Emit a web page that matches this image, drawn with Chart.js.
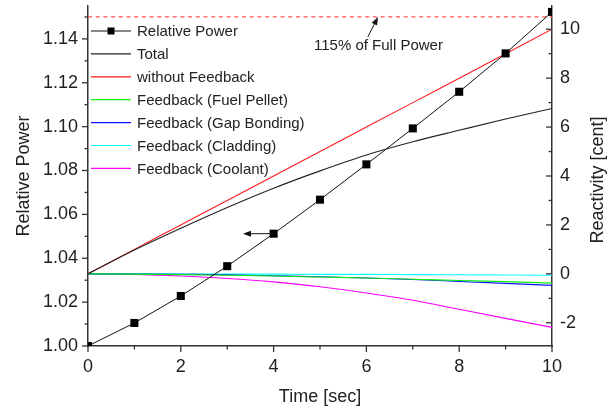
<!DOCTYPE html>
<html>
<head>
<meta charset="utf-8">
<title>Relative Power and Reactivity</title>
<script src="https://cdn.jsdelivr.net/npm/chart.js@4.4.1/dist/chart.umd.min.js"></script>
<style>
  html, body { margin: 0; padding: 0; background: #fff; }
  #wrap { width: 616px; height: 418px; }
</style>
</head>
<body>
<div id="wrap"><canvas id="chart" width="616" height="418"></canvas></div>
<script>
// time axis [sec]
const timeSec = [0, 1, 2, 3, 4, 5, 6, 7, 8, 9, 10];

// left axis: relative power
const relativePower = [1.000, 1.0105, 1.0228, 1.0364, 1.0512, 1.0667, 1.0828, 1.0992, 1.1159, 1.1334, 1.1523];
const fullPowerLimit = 1.15;

// right axis: reactivity [cent]
const reactTotal      = [0, 0.97, 1.86, 2.71, 3.50, 4.21, 4.86, 5.40, 5.87, 6.33, 6.76];
const reactNoFeedback = [0, 1, 2, 3, 4, 5, 6, 7, 8, 9, 10];
const reactFuel       = [0, -0.01, -0.03, -0.06, -0.09, -0.13, -0.17, -0.22, -0.27, -0.32, -0.38];
const reactGap        = [0, -0.005, -0.02, -0.04, -0.08, -0.12, -0.17, -0.23, -0.31, -0.39, -0.47];
const reactClad       = [0, 0, -0.005, -0.01, -0.01, -0.02, -0.02, -0.03, -0.04, -0.05, -0.06];
const reactCool       = [0, -0.02, -0.09, -0.19, -0.33, -0.53, -0.78, -1.08, -1.45, -1.82, -2.19];

const FONT = "'Liberation Sans', Arial, sans-serif";
const INK = '#222';
const AXIS = '#333';

function pts(ys) {
  return timeSec.map((t, i) => ({ x: t, y: ys[i] }));
}

function reactLine(label, ys, color) {
  return {
    label,
    data: pts(ys),
    yAxisID: 'yReact',
    borderColor: color,
    borderWidth: 1.1,
    pointRadius: 0,
    cubicInterpolationMode: 'monotone',
  };
}

// thin/thick tick marks, drawn by hand so minor ticks can be shorter
const tickMarks = {
  id: 'tickMarks',
  afterDraw(chart) {
    const { ctx } = chart;
    const { x, yPower, yReact } = chart.scales;
    ctx.save();
    ctx.strokeStyle = AXIS;
    ctx.lineWidth = 1.3;
    const seg = (x1, y1, x2, y2) => {
      ctx.beginPath();
      ctx.moveTo(x1, y1);
      ctx.lineTo(x2, y2);
      ctx.stroke();
    };
    x.ticks.forEach(t => {
      const px = x.getPixelForValue(t.value);
      const len = Math.round(t.value) % 2 === 0 ? 6 : 3.5;
      seg(px, x.top, px, x.top + len);
    });
    yPower.ticks.forEach(t => {
      const py = yPower.getPixelForValue(t.value);
      const len = Math.round(t.value * 100) % 2 === 0 ? 6 : 3.5;
      seg(yPower.right - len, py, yPower.right, py);
    });
    yReact.ticks.forEach(t => {
      const py = yReact.getPixelForValue(t.value);
      const len = Math.round(t.value) % 2 === 0 ? 6 : 3.5;
      seg(yReact.left - len, py, yReact.left, py);
    });

    // right axis title reads bottom-to-top like the left one
    ctx.fillStyle = INK;
    ctx.font = '18px ' + FONT;
    ctx.textAlign = 'center';
    ctx.textBaseline = 'middle';
    ctx.translate(598, 180);
    ctx.rotate(-Math.PI / 2);
    ctx.fillText('Reactivity [cent]', 0, 0);
    ctx.restore();
  }
};

// legend in the upper-left corner of the plot
const innerLegend = {
  id: 'innerLegend',
  afterDraw(chart) {
    const { ctx, chartArea } = chart;
    const x0 = chartArea.left + 3;
    const lineLen = 40;
    const rowH = 22.9;
    let y = 31;
    ctx.save();
    ctx.font = '15px ' + FONT;
    ctx.textBaseline = 'middle';
    ctx.textAlign = 'left';
    chart.data.datasets.forEach(ds => {
      if (!ds.label) return;
      ctx.strokeStyle = ds.borderColor;
      ctx.lineWidth = 1.2;
      ctx.beginPath();
      ctx.moveTo(x0, y);
      ctx.lineTo(x0 + lineLen, y);
      ctx.stroke();
      if (ds.pointRadius) {
        ctx.fillStyle = ds.pointBackgroundColor;
        ctx.fillRect(x0 + lineLen / 2 - 3.5, y - 3.5, 7, 7);
      }
      ctx.fillStyle = INK;
      ctx.fillText(ds.label, x0 + lineLen + 6, y + 1);
      y += rowH;
    });
    ctx.restore();
  }
};

// arrows and the note for the 115 % line
const notes = {
  id: 'notes',
  afterDraw(chart) {
    const { ctx } = chart;
    const { x, yPower } = chart.scales;
    const arrow = (fx, fy, tx, ty) => {
      const x1 = x.getPixelForValue(fx), y1 = yPower.getPixelForValue(fy);
      const x2 = x.getPixelForValue(tx), y2 = yPower.getPixelForValue(ty);
      const a = Math.atan2(y2 - y1, x2 - x1);
      const head = 8, half = 3;
      ctx.beginPath();
      ctx.moveTo(x1, y1);
      ctx.lineTo(x2 - Math.cos(a) * head, y2 - Math.sin(a) * head);
      ctx.stroke();
      ctx.beginPath();
      ctx.moveTo(x2, y2);
      ctx.lineTo(x2 - Math.cos(a) * head - Math.sin(a) * half, y2 - Math.sin(a) * head + Math.cos(a) * half);
      ctx.lineTo(x2 - Math.cos(a) * head + Math.sin(a) * half, y2 - Math.sin(a) * head - Math.cos(a) * half);
      ctx.closePath();
      ctx.fill();
    };
    ctx.save();
    ctx.strokeStyle = '#111';
    ctx.fillStyle = '#111';
    ctx.lineWidth = 1;
    arrow(6.03, 1.1409, 6.25, fullPowerLimit);
    arrow(4, relativePower[4], 3.34, relativePower[4]);
    ctx.fillStyle = INK;
    ctx.font = '15px ' + FONT;
    ctx.textBaseline = 'middle';
    ctx.textAlign = 'left';
    ctx.fillText('115% of Full Power', x.getPixelForValue(4.87), yPower.getPixelForValue(1.1367));
    ctx.restore();
  }
};

function fixSize(prop, size) {
  return scale => {
    scale[prop] = size;
    scale.paddingTop = 0;
    scale.paddingBottom = 0;
    scale.paddingLeft = 0;
    scale.paddingRight = 0;
  };
}

const axisGrid = {
  display: true,
  drawOnChartArea: false,
  drawTicks: true,
  tickLength: 6,
  tickColor: 'rgba(0,0,0,0)',
};

new Chart(document.getElementById('chart'), {
  type: 'line',
  data: {
    datasets: [
      {
        label: 'Relative Power',
        data: pts(relativePower),
        yAxisID: 'yPower',
        borderColor: '#111',
        borderWidth: 1,
        pointStyle: 'rect',
        pointRadius: 5.7,
        pointBackgroundColor: '#000',
        pointBorderWidth: 0,
        tension: 0,
        clip: 0,
      },
      reactLine('Total', reactTotal, '#222'),
      reactLine('without Feedback', reactNoFeedback, '#ff1a1a'),
      reactLine('Feedback (Fuel Pellet)', reactFuel, '#11ee11'),
      reactLine('Feedback (Gap Bonding)', reactGap, '#1010ff'),
      reactLine('Feedback (Cladding)', reactClad, '#00ffff'),
      reactLine('Feedback (Coolant)', reactCool, '#ff00ff'),
      {
        data: [{ x: 0, y: fullPowerLimit }, { x: 10, y: fullPowerLimit }],
        yAxisID: 'yPower',
        borderColor: '#ff5555',
        borderWidth: 1.2,
        borderDash: [4, 3.7],
        pointRadius: 0,
      },
    ],
  },
  options: {
    responsive: false,
    animation: false,
    layout: { padding: { top: 6, left: 0, right: 0, bottom: 0 } },
    plugins: {
      legend: { display: false },
      tooltip: { enabled: false },
    },
    scales: {
      x: {
        type: 'linear',
        min: 0,
        max: 10,
        grid: axisGrid,
        border: { display: true, color: AXIS, width: 1.5 },
        ticks: {
          stepSize: 1,
          autoSkip: false,
          maxRotation: 0,
          padding: 4,
          color: INK,
          font: { family: FONT, size: 18 },
          callback: v => (v % 2 === 0 ? String(v) : ''),
        },
        title: {
          display: true,
          text: 'Time [sec]',
          color: INK,
          font: { family: FONT, size: 18 },
          padding: { top: 0, bottom: 10 },
        },
        afterFit: fixSize('height', 72),
      },
      yPower: {
        type: 'linear',
        position: 'left',
        min: 1.0,
        max: 1.155,
        grid: axisGrid,
        border: { display: true, color: AXIS, width: 1.5 },
        ticks: {
          stepSize: 0.01,
          includeBounds: false,
          autoSkip: false,
          padding: 4,
          color: INK,
          font: { family: FONT, size: 18 },
          callback: v => (Math.round(v * 100) % 2 === 0 ? v.toFixed(2) : ''),
        },
        title: {
          display: true,
          text: 'Relative Power',
          color: INK,
          font: { family: FONT, size: 18 },
          padding: { top: 13, bottom: 0 },
        },
        afterFit: fixSize('width', 88),
      },
      yReact: {
        type: 'linear',
        position: 'right',
        min: -2.95,
        max: 10.95,
        grid: { ...axisGrid, tickLength: 0 },
        border: { display: true, color: AXIS, width: 1.5 },
        ticks: {
          stepSize: 1,
          includeBounds: false,
          autoSkip: false,
          padding: 8,
          color: INK,
          font: { family: FONT, size: 18 },
          callback: v => (Math.round(v) % 2 === 0 ? String(v) : ''),
        },
        title: { display: false },
        afterFit: fixSize('width', 64),
      },
    },
  },
  plugins: [tickMarks, innerLegend, notes],
});
</script>
</body>
</html>
